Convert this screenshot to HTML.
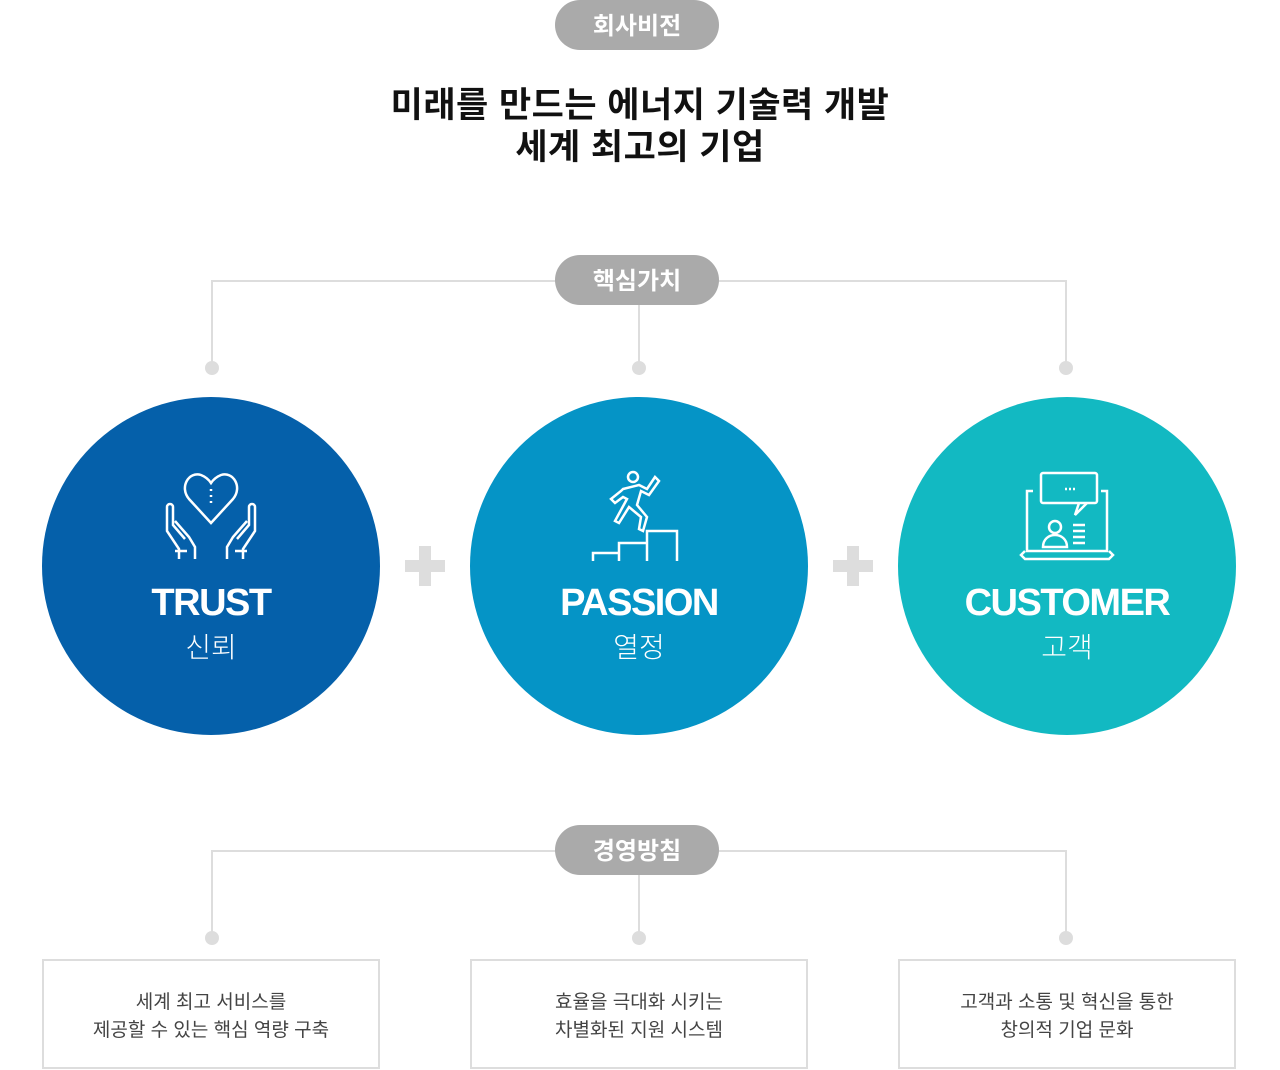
<!DOCTYPE html>
<html><head><meta charset="utf-8"><style>
body{margin:0;width:1280px;height:1070px;background:#fff;position:relative;font-family:"Liberation Sans","Noto Sans CJK KR",sans-serif;overflow:hidden}
.a{position:absolute}
.pill{position:absolute;left:555px;width:164px;height:50px;border-radius:25px;background:#aaa;color:#fff;font-weight:bold;font-size:24px;text-align:center;line-height:54px}
.ln{position:absolute;background:#ddd}
.dot{position:absolute;width:14px;height:14px;border-radius:50%;background:#ddd}
.c{position:absolute;width:338px;height:338px;border-radius:50%;top:397px;color:#fff;text-align:center}
.c .t{position:absolute;top:185px;width:100%;font-size:38px;font-weight:bold;letter-spacing:-1.5px}
.c .k{position:absolute;top:229px;width:100%;font-size:28px;font-weight:300}
.c svg{position:absolute;left:119px;top:72px}
.plus{position:absolute;top:546px;width:40px;height:40px}
.plus:before,.plus:after{content:"";position:absolute;background:#ddd}
.plus:before{left:14px;top:0;width:12px;height:40px}
.plus:after{left:0;top:14px;width:40px;height:12px}
.box{position:absolute;top:959px;width:334px;height:106px;border:2px solid #ddd;text-align:center;font-size:19px;color:#444;line-height:28px;display:flex;align-items:center;justify-content:center;padding-top:6px;box-sizing:content-box}
.box{height:100px}
</style></head><body>
<div class="pill" style="top:0">회사비전</div>
<div class="a" style="top:85px;width:1280px;text-align:center;font-size:35px;font-weight:bold;line-height:42px;color:#111;letter-spacing:0.5px">미래를 만드는 에너지 기술력 개발<br>세계 최고의 기업</div>

<div class="ln" style="left:211px;top:280px;width:856px;height:2px"></div>
<div class="ln" style="left:211px;top:280px;width:2px;height:88px"></div>
<div class="ln" style="left:638px;top:280px;width:2px;height:88px"></div>
<div class="ln" style="left:1065px;top:280px;width:2px;height:88px"></div>
<div class="dot" style="left:205px;top:361px"></div>
<div class="dot" style="left:632px;top:361px"></div>
<div class="dot" style="left:1059px;top:361px"></div>
<div class="pill" style="top:255px">핵심가치</div>

<div class="c" style="left:42px;background:#0560aa">
<svg width="100" height="95" viewBox="0 0 100 95" fill="none" stroke="#fff" stroke-width="2.5"><path d="M50 54 L28 30 C18 18 28 2 40 6 C45 8 48 11 50 14 C52 11 55 8 60 6 C72 2 82 18 72 30 Z"/><path d="M50 20v2M50 26v2M50 32v2"/><path d="M18 90V80L6 62V38c0-4 6-4 6 0v18l12 14M14 52l14 16 6 10v12M82 90V80l12-18V38c0-4-6-4-6 0v18L76 70M86 52L72 68l-6 10v12M14 82h12M74 82h12"/></svg>
<div class="t">TRUST</div><div class="k">신뢰</div></div>
<div class="plus" style="left:405px"></div>
<div class="c" style="left:470px;background:#0594c6">
<svg width="100" height="95" viewBox="0 0 100 95" fill="none" stroke="#fff" stroke-width="2.5"><circle cx="44" cy="8" r="5"/><path d="M34 20l16-4 8 4 8-12 4 4-10 14-8-4-4 14 10 12-4 14-4-2 2-12-12-10-10 16-4-2 12-22-4-2-8 6-4-4 10-8z"/><path d="M4 92v-8h26v8M30 84v-10h28v18M58 74v-12h30v30"/></svg>
<div class="t">PASSION</div><div class="k">열정</div></div>
<div class="plus" style="left:833px"></div>
<div class="c" style="left:898px;background:#12b9c2">
<svg width="100" height="95" viewBox="0 0 100 95" fill="none" stroke="#fff" stroke-width="2.5"><rect x="24" y="4" width="56" height="30" rx="2"/><path d="M62 34l-4 12 12-12"/><path d="M16 22h-6v60h80V22h-6"/><path d="M8 82l-4 4 4 4h84l4-4-4-4"/><circle cx="38" cy="58" r="6"/><path d="M26 78c0-8 6-12 12-12s12 4 12 12zM56 56h12M56 62h12M56 68h12M56 74h12"/><path d="M48 20h2M52 20h2M56 20h2"/></svg>
<div class="t">CUSTOMER</div><div class="k">고객</div></div>

<div class="ln" style="left:211px;top:850px;width:856px;height:2px"></div>
<div class="ln" style="left:211px;top:850px;width:2px;height:88px"></div>
<div class="ln" style="left:638px;top:850px;width:2px;height:88px"></div>
<div class="ln" style="left:1065px;top:850px;width:2px;height:88px"></div>
<div class="dot" style="left:205px;top:931px"></div>
<div class="dot" style="left:632px;top:931px"></div>
<div class="dot" style="left:1059px;top:931px"></div>
<div class="pill" style="top:825px">경영방침</div>

<div class="box" style="left:42px">세계 최고 서비스를<br>제공할 수 있는 핵심 역량 구축</div>
<div class="box" style="left:470px">효율을 극대화 시키는<br>차별화된 지원 시스템</div>
<div class="box" style="left:898px">고객과 소통 및 혁신을 통한<br>창의적 기업 문화</div>
</body></html>
